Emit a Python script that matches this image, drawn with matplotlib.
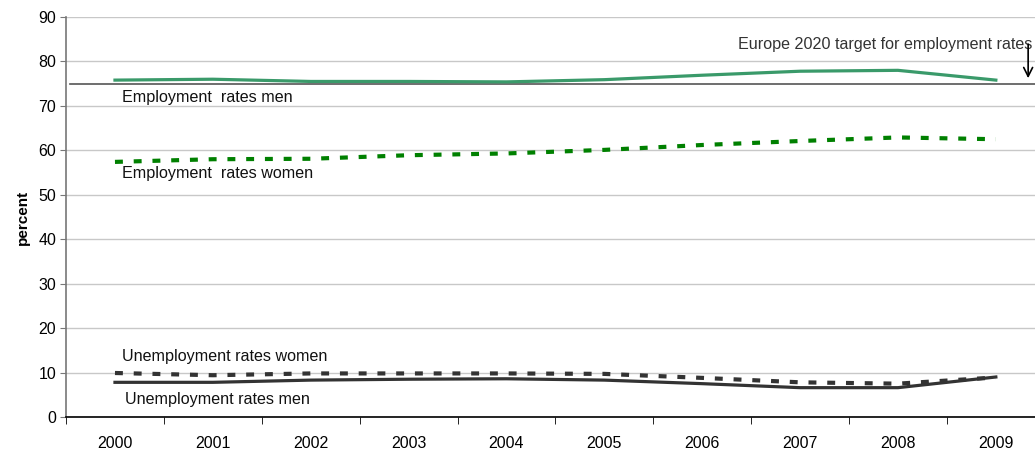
import matplotlib
matplotlib.use('Agg')
import matplotlib.pyplot as plt
from matplotlib.ticker import FixedLocator

plt.rcParams['font.family'] = ['Liberation Sans', 'DejaVu Sans']

years = ['2000', '2001', '2002', '2003', '2004', '2005', '2006', '2007', '2008', '2009']
employment_men = [75.8, 76.0, 75.5, 75.5, 75.4, 75.9, 76.9, 77.8, 78.0, 75.8]
employment_women = [57.4, 58.0, 58.1, 58.9, 59.3, 60.1, 61.2, 62.1, 62.9, 62.5]
unemployment_women = [9.9, 9.4, 9.8, 9.8, 9.8, 9.7, 8.8, 7.8, 7.5, 8.9]
unemployment_men = [7.8, 7.8, 8.3, 8.5, 8.6, 8.3, 7.5, 6.6, 6.6, 9.0]
target = 75

x = list(range(len(years)))

fig = plt.figure(figsize=(10.35, 4.51), dpi=100)
ax = fig.add_axes([0.0638, 0.0754, 0.9362, 0.8869])

ax.axhline(target, xmin=0.004, xmax=1, color='#555555', linewidth=1.2, zorder=2)

ax.plot(x, employment_men, color='#3a9a6a', linewidth=2.3, zorder=3)
ax.plot(x, employment_women, color='#008000', linewidth=3, linestyle=(0, (1.9, 2.6)), zorder=3)
ax.plot(x, unemployment_women, color='#333333', linewidth=3, linestyle=(0, (1.9, 2.6)), zorder=3)
ax.plot(x, unemployment_men, color='#333333', linewidth=2.3, zorder=3)

label_size = 11.6
ax.text(0.07, 71.8, 'Employment  rates men', fontsize=label_size, va='center', color='#111111')
ax.text(0.07, 54.7, 'Employment  rates women', fontsize=label_size, va='center', color='#111111')
ax.text(0.07, 13.5, 'Unemployment rates women', fontsize=label_size, va='center', color='#111111')
ax.text(0.10, 4.0, 'Unemployment rates men', fontsize=label_size, va='center', color='#111111')

ax.text(9.376, 83.9, 'Europe 2020 target for employment rates', fontsize=label_size,
        ha='right', va='center', color='#333333')
ax.annotate('', xy=(9.33, 75.6), xytext=(9.33, 84.5),
            arrowprops=dict(arrowstyle='->', color='black', lw=1.2, mutation_scale=16))

ax.set_xlim(-0.5, 9.4)
ax.set_ylim(0, 90)
ax.set_yticks(range(0, 91, 10))
ax.set_xticks(x)
ax.set_xticklabels(years)
ax.xaxis.set_minor_locator(FixedLocator([i - 0.5 for i in range(len(years))]))
ax.tick_params(axis='x', which='major', length=0, pad=14, labelsize=11.5)
ax.tick_params(axis='x', which='minor', length=5, color='black', direction='out')
ax.tick_params(axis='y', length=4, color='#777777', labelsize=11.5, pad=3)

ax.grid(axis='y', color='#c8c8c8', linewidth=1)
ax.set_axisbelow(True)
for side in ['top', 'right']:
    ax.spines[side].set_visible(False)
ax.spines['left'].set_color('#777777')
ax.spines['left'].set_linewidth(1.2)
ax.spines['bottom'].set_color('black')
ax.spines['bottom'].set_linewidth(1.2)

ax.set_ylabel('percent', fontsize=11, fontweight='bold', labelpad=6)

fig.savefig('out.png', dpi=100)
